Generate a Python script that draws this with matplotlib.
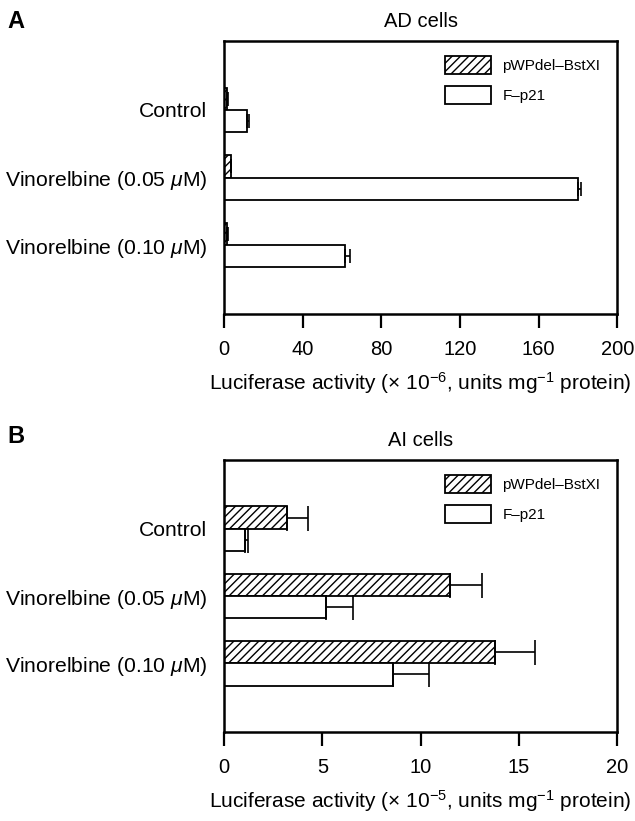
import numpy as np
import matplotlib
matplotlib.use("Agg")
import matplotlib.pyplot as plt
from matplotlib.patches import Patch

plt.rcParams['font.family'] = ['Liberation Sans', 'DejaVu Sans']
plt.rcParams['mathtext.fontset'] = 'custom'
plt.rcParams['mathtext.rm'] = 'Liberation Sans'
plt.rcParams['mathtext.it'] = 'Liberation Sans:italic'
plt.rcParams['hatch.linewidth'] = 1.0

categories = ['Control', 'Vinorelbine (0.05 $\\mu$M)', 'Vinorelbine (0.10 $\\mu$M)']
series_names = ['pWPdel\u2013BstXI', 'F\u2013p21']

# panel A, AD cells (x 10^-6)
ad_bstxi = [1.5, 3.3, 1.5]
ad_bstxi_err = [0.3, 0.4, 0.3]
ad_p21 = [11.4, 180.2, 61.3]
ad_p21_err = [1.3, 1.5, 2.5]

# panel B, AI cells (x 10^-5)
ai_bstxi = [3.2, 11.5, 13.8]
ai_bstxi_err = [1.06, 1.6, 2.0]
ai_p21 = [1.04, 5.18, 8.57]
ai_p21_err = [0.15, 1.37, 1.87]

ad_ticks = [0, 40, 80, 120, 160, 200]
ai_ticks = [0, 5, 10, 15, 20]

fig = plt.figure(figsize=(6.35, 8.21), dpi=100)


def panel(rect, hatched, hatched_err, plain, plain_err, ticks, capsize, title, letter, xlabel, letter_y):
    ax = fig.add_axes(rect)
    y = np.arange(len(categories))
    h = 0.33
    ax.barh(y - h / 2, hatched, height=h, color='white', edgecolor='black',
            hatch='////', linewidth=1.3,
            xerr=[np.zeros(len(hatched)), hatched_err],
            error_kw=dict(ecolor='black', elinewidth=1.2, capsize=capsize, capthick=1.2))
    ax.barh(y + h / 2, plain, height=h, color='white', edgecolor='black',
            linewidth=1.3,
            xerr=[np.zeros(len(plain)), plain_err],
            error_kw=dict(ecolor='black', elinewidth=1.2, capsize=capsize, capthick=1.2))
    ax.set_ylim(2 + 1.02, -1.02)
    ax.set_xlim(ticks[0], ticks[-1])
    ax.set_yticks(y)
    ax.set_yticklabels(categories, fontsize=15.2)
    ax.tick_params(axis='y', length=0, pad=12)
    ax.set_xticks(ticks)
    ax.tick_params(axis='x', direction='out', length=10, width=1.6, labelsize=14.5, pad=9)
    for s in ax.spines.values():
        s.set_linewidth(1.8)
    ax.set_title(title, fontsize=14.5, pad=10)
    ax.set_xlabel(xlabel, fontsize=15, labelpad=8)
    handles = [Patch(facecolor='white', edgecolor='black', hatch='////', linewidth=1.3),
               Patch(facecolor='white', edgecolor='black', linewidth=1.3)]
    ax.legend(handles, series_names, loc='upper left', bbox_to_anchor=(0.562, 0.945),
              frameon=False, fontsize=11, handlelength=3.0, handleheight=1.45,
              handletextpad=0.75, labelspacing=0.75, borderpad=0, borderaxespad=0)
    fig.text(0.011, letter_y, letter, fontsize=17, fontweight='bold', va='center')
    return ax


panel([0.353, 0.6175, 0.619, 0.3325], ad_bstxi, ad_bstxi_err, ad_p21, ad_p21_err,
      ad_ticks, 5, 'AD cells', 'A',
      'Luciferase activity ($\\times$ 10$^{-6}$, units mg$^{-1}$ protein)', 1 - 21 / 821)
panel([0.353, 0.1084, 0.619, 0.3313], ai_bstxi, ai_bstxi_err, ai_p21, ai_p21_err,
      ai_ticks, 9, 'AI cells', 'B',
      'Luciferase activity ($\\times$ 10$^{-5}$, units mg$^{-1}$ protein)', 1 - 436 / 821)

fig.savefig('out.png', dpi=100)
